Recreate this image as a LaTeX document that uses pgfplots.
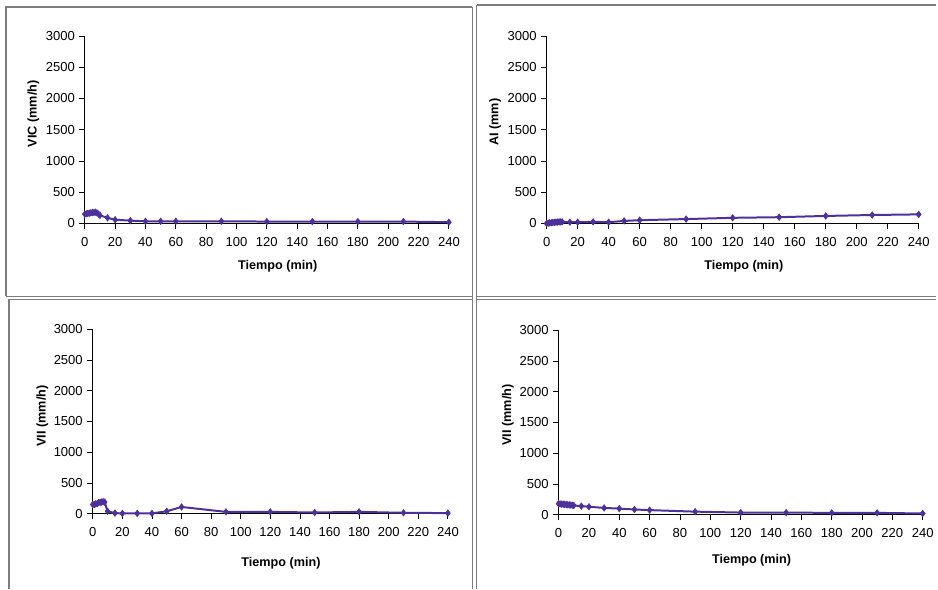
\documentclass[border=0pt]{standalone}
\usepackage{pgfplots}
\pgfplotsset{compat=1.18}
\usepackage{fontspec}
\setmainfont{Liberation Sans}

\definecolor{serie}{RGB}{78,48,155}
\definecolor{marco}{RGB}{125,125,125}

\pgfplotsset{
  panel/.style={
    scale only axis,
    anchor=south west,
    axis lines=left,
    axis line style={black, line width=0.75pt, -},
    xmin=0, xmax=240, ymin=0, ymax=3000,
    xtick={0,20,...,240},
    ytick={0,500,...,3000},
    tick align=outside,
    major tick length=4pt,
    tick style={black, line width=0.6pt},
    /pgf/number format/assume math mode=true,
    /pgf/number format/1000 sep={},
    ticklabel style={font=\fontsize{9.8}{11}\selectfont},
    xticklabel style={yshift=-3pt},
    label style={font=\fontsize{9.5}{11}\selectfont\bfseries},
    clip=false,
  },
  serieplot/.style={
    serie, line width=1.5pt, mark=diamond*, mark size=2.4pt,
    mark options={serie, line width=0.5pt}
  },
}

\begin{document}
\begin{tikzpicture}
% marcos de los paneles (unidades en pixeles de la referencia)
\begin{scope}[x=0.75pt, y=0.75pt, marco, line width=0.9pt]
  \path (0,0) rectangle (938,590);
  \draw (6,{590-297}) -- (6,{590-7}) -- (473.5,{590-7});
  \draw (478,{590-5}) -- (938,{590-5});
  \draw (9,0) -- (9,{590-300});
  \draw (6,{590-297}) -- (473.5,{590-297});
  \draw (478,{590-297}) -- (938,{590-297});
  \draw (9,{590-300.5}) -- (473.5,{590-300.5});
  \draw (478,{590-300.5}) -- (938,{590-300.5});
  \draw (473.5,0) -- (473.5,{590-7});
  \draw (478,0) -- (478,{590-5});
\end{scope}

% VIC
\begin{axis}[panel, at={(63.75pt,274.5pt)}, width=273.75pt, height=141pt,
  ylabel={VIC (mm/h)},
  ylabel style={at={(axis description cs:-0.112,0.585)}, anchor=south},
  xlabel={Tiempo (min)},
  xlabel style={at={(axis description cs:0.53,0)}, yshift=-32pt, anchor=center},
]
\addplot[serieplot] coordinates {
  (0,150) (1,155) (2,160) (3,165) (4,170) (5,175) (6,175) (7,180) (8,170)
  (9,150) (10,130) (15,90) (20,60) (30,45) (40,35) (50,35) (60,35)
  (90,35) (120,30) (150,30) (180,30) (210,30) (240,20)
};
\end{axis}

% AI
\begin{axis}[panel, at={(411pt,274.5pt)}, width=279.75pt, height=141pt,
  ylabel={AI (mm)},
  ylabel style={at={(axis description cs:-0.11,0.54)}, anchor=south},
  xlabel={Tiempo (min)},
  xlabel style={at={(axis description cs:0.53,0)}, yshift=-32pt, anchor=center},
]
\addplot[serieplot] coordinates {
  (0,0) (1,5) (2,10) (3,12) (4,15) (5,18) (6,20) (7,22) (8,25) (9,25)
  (10,25) (15,20) (20,20) (30,25) (40,20) (50,40) (60,52)
  (90,70) (120,90) (150,100) (180,120) (210,135) (240,145)
};
\end{axis}

% VII izquierda
\begin{axis}[panel, at={(69.75pt,56.25pt)}, width=267pt, height=138.75pt,
  ylabel={VII (mm/h)},
  ylabel style={at={(axis description cs:-0.112,0.53)}, anchor=south},
  xlabel={Tiempo (min)},
  xlabel style={at={(axis description cs:0.53,0)}, yshift=-37.5pt, anchor=center},
]
\addplot[serieplot] coordinates {
  (0,150) (1,150) (2,160) (3,165) (4,180) (5,185) (6,190) (7,195) (8,190)
  (10,40) (15,10) (20,5) (30,5) (40,5) (50,40) (60,110)
  (90,30) (120,30) (150,20) (180,30) (210,15) (240,10)
};
\end{axis}

% VII derecha
\begin{axis}[panel, at={(420pt,55.5pt)}, width=273.75pt, height=138.75pt,
  ylabel={VII (mm/h)},
  ylabel style={at={(axis description cs:-0.11,0.54)}, anchor=south},
  xlabel={Tiempo (min)},
  xlabel style={at={(axis description cs:0.53,0)}, yshift=-34pt, anchor=center},
]
\addplot[serieplot] coordinates {
  (0,180) (1,175) (2,172) (3,170) (4,168) (5,165) (6,162) (7,160) (8,158)
  (9,155) (10,150) (15,140) (20,130) (30,110) (40,100) (50,85) (60,75)
  (90,50) (120,35) (150,35) (180,30) (210,30) (240,20)
};
\end{axis}
\end{tikzpicture}
\end{document}
